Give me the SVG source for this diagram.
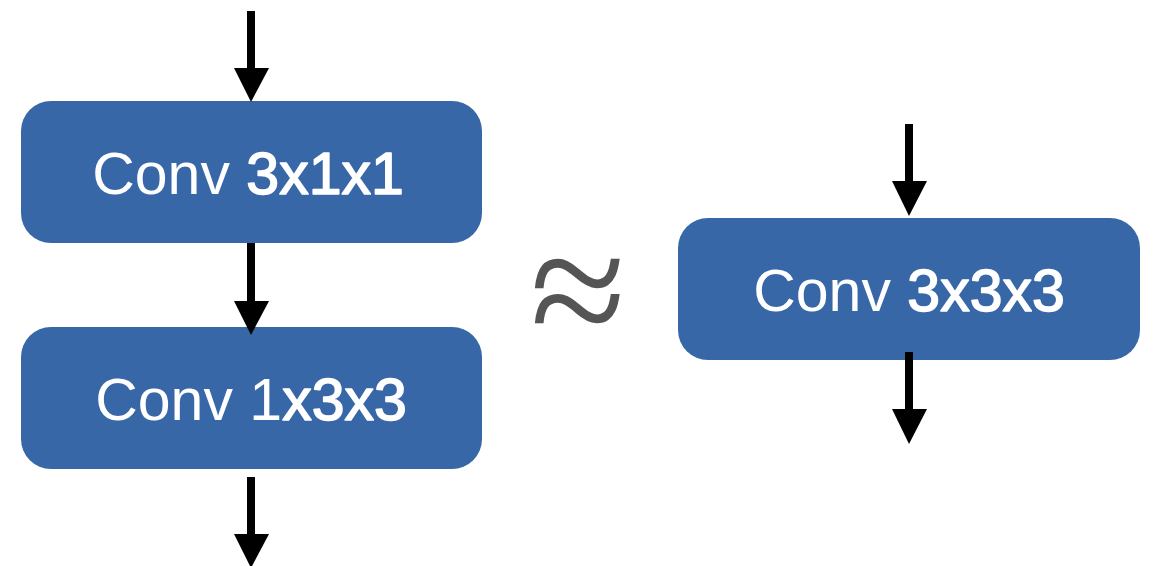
<svg xmlns="http://www.w3.org/2000/svg" width="1159" height="566" viewBox="0 0 1159 566">
<style>
.box{fill:#3767a6;}
.lbl{fill:#ffffff;font-family:"Liberation Sans",Arial,sans-serif;font-size:59px;text-anchor:middle;}
.b{stroke:#ffffff;stroke-width:1.6;stroke-linejoin:round;}
.ln{stroke:#000;stroke-width:8;fill:none;}
.hd{fill:#000;}
</style>
<rect width="1159" height="566" fill="#ffffff"/>
<g id="node-conv311">
<rect class="box" x="21" y="101" width="461" height="142" rx="30" ry="30"/>
<text class="lbl" x="248" y="194">Conv <tspan class="b">3x1x1</tspan></text>
</g>
<g id="node-conv133">
<rect class="box" x="21" y="327" width="461" height="142" rx="30" ry="30"/>
<text class="lbl" x="251" y="420">Conv 1<tspan class="b">x3x3</tspan></text>
</g>
<g id="node-conv333">
<rect class="box" x="678" y="218" width="462" height="142" rx="30" ry="30"/>
<text class="lbl" x="909" y="311">Conv <tspan class="b">3x3x3</tspan></text>
</g>
<g id="approx">
<text x="578" y="349" font-family="Liberation Serif,serif" font-size="175" fill="#555555" text-anchor="middle">≈</text>
</g>
<g id="connectors">
<line class="ln" x1="251" y1="11" x2="251" y2="70"/>
<polygon class="hd" points="234,68 269,68 251,102"/>
<line class="ln" x1="251" y1="243" x2="251" y2="303"/>
<polygon class="hd" points="234,301 269,301 251,335"/>
<line class="ln" x1="251" y1="477" x2="251" y2="536"/>
<polygon class="hd" points="234,534 269,534 251,568"/>
<line class="ln" x1="909" y1="124" x2="909" y2="183"/>
<polygon class="hd" points="892,181 927,181 909,216"/>
<line class="ln" x1="909" y1="352" x2="909" y2="411"/>
<polygon class="hd" points="892,409 927,409 909,444"/>
</g>
</svg>
